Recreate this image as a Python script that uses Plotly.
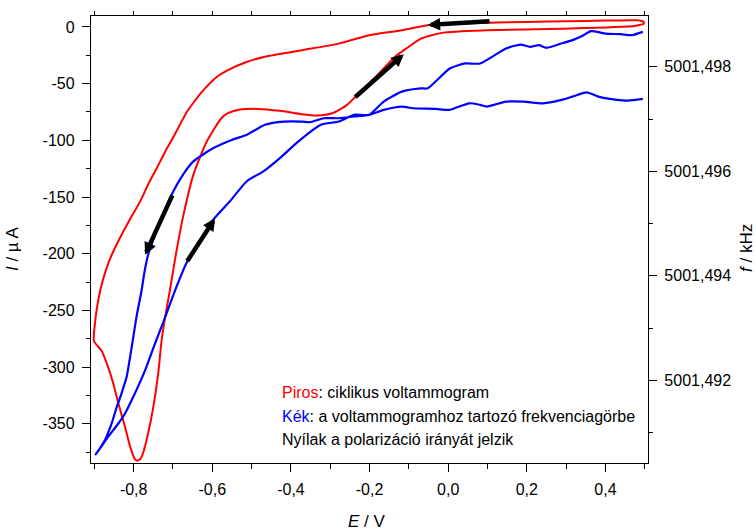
import plotly.graph_objects as go

# Cyclic voltammogram (red): potential E / V and current I / µA, one full cycle
cv_E = [0.497, 0.48, 0.40, 0.30, 0.20, 0.10, 0.00, -0.052, -0.118, -0.201, -0.278, -0.372,
        -0.466, -0.511, -0.560, -0.588, -0.626, -0.645, -0.664, -0.699, -0.720, -0.741,
        -0.763, -0.783, -0.809, -0.834, -0.857, -0.872, -0.884, -0.893, -0.898, -0.901,
        -0.882, -0.865, -0.852, -0.839, -0.822, -0.809, -0.798, -0.792, -0.783, -0.776,
        -0.763, -0.750, -0.7375, -0.729, -0.720, -0.708, -0.694, -0.673, -0.648, -0.614,
        -0.577, -0.560, -0.532, -0.483, -0.428, -0.372, -0.334, -0.295, -0.257, -0.240,
        -0.184, -0.135, -0.107, -0.069, -0.013, 0.098, 0.286, 0.474, 0.497, 0.497]
cv_I = [4.5, 5.9, 5.6, 5.0, 4.4, 3.8, 2.8, 1.5, -2.9, -7.3, -14.7, -20.5,
        -26.3, -30.7, -38.0, -43.9, -57.1, -65.5, -74.6, -97.0, -110.0, -124.4,
        -138.7, -153.6, -169.4, -185.5, -202.0, -216.0, -231.0, -247.0, -260.0, -277.0,
        -285.4, -300.0, -314.3, -331.9, -352.7, -370.2, -380.6, -382.4, -381.0, -375.8,
        -358.2, -335.1, -305.5, -276.6, -256.1, -232.7, -203.4, -165.3, -130.2, -101.0,
        -80.5, -76.1, -73.1, -72.3, -74.0, -77.0, -78.1, -76.1, -68.7, -63.0,
        -43.9, -26.3, -19.1, -10.3, -5.0, -2.9, -1.5, 0.9, 2.9, 4.5]

# Quartz crystal frequency (blue) recorded during the same cycle: E / V and f / kHz
fq_E = [0.495, 0.457, 0.429, 0.382, 0.352, 0.316, 0.288, 0.241, 0.192, 0.147, 0.098,
        0.081, 0.053, 0.004, -0.032, -0.090, -0.118, -0.164, -0.201, -0.240, -0.278,
        -0.316, -0.352, -0.372, -0.418, -0.466, -0.512, -0.549, -0.597, -0.648, -0.674,
        -0.699, -0.725, -0.745, -0.762, -0.772, -0.780, -0.793, -0.805, -0.818, -0.831,
        -0.843, -0.856, -0.873, -0.887, -0.898,
        -0.885, -0.865, -0.839, -0.822, -0.797, -0.771, -0.746, -0.720, -0.695, -0.665,
        -0.631, -0.597, -0.555, -0.512, -0.470, -0.428, -0.381, -0.324, -0.278, -0.240,
        -0.201, -0.164, -0.118, -0.070, -0.052, 0.004, 0.043, 0.081, 0.147, 0.184, 0.208,
        0.231, 0.250, 0.288, 0.316, 0.344, 0.363, 0.401, 0.438, 0.467, 0.495]
fq_f = [5001.497385, 5001.497352, 5001.497366, 5001.497429, 5001.497510, 5001.497429,
        5001.497366, 5001.497301, 5001.497333, 5001.497333, 5001.497238, 5001.497271,
        5001.497301, 5001.497175, 5001.497194, 5001.497206, 5001.497238, 5001.497175,
        5001.497080, 5001.497048, 5001.497015, 5001.497015, 5001.496939, 5001.496952,
        5001.496952, 5001.496890, 5001.496699, 5001.496604, 5001.496444, 5001.496190,
        5001.495943, 5001.495619, 5001.495181, 5001.494800, 5001.494438, 5001.494095,
        5001.493714, 5001.493206, 5001.492634, 5001.492063, 5001.491747, 5001.491491,
        5001.491175, 5001.490857, 5001.490686, 5001.490571,
        5001.490705, 5001.490920, 5001.491175, 5001.491366, 5001.491747, 5001.492190,
        5001.492699, 5001.493206, 5001.493714, 5001.494253, 5001.494667, 5001.495080,
        5001.495429, 5001.495810, 5001.496000, 5001.496253, 5001.496571, 5001.496890,
        5001.496952, 5001.497080, 5001.497080, 5001.497333, 5001.497524, 5001.497587,
        5001.497587, 5001.497968, 5001.498063, 5001.498063, 5001.498349, 5001.498425,
        5001.498381, 5001.498413, 5001.498362, 5001.498444, 5001.498509, 5001.498604,
        5001.498680, 5001.498634, 5001.498623, 5001.498604, 5001.498667]

# Axis ticks and labels (decimal comma)
e_ticks = [-0.8, -0.6, -0.4, -0.2, 0.0, 0.2, 0.4]
e_labels = ["-0,8", "-0,6", "-0,4", "-0,2", "0,0", "0,2", "0,4"]
e_minor = [-0.9, -0.7, -0.5, -0.3, -0.1, 0.1, 0.3, 0.5]
i_ticks = [0, -50, -100, -150, -200, -250, -300, -350]
i_labels = ["0", "-50", "-100", "-150", "-200", "-250", "-300", "-350"]
i_minor = [-25, -75, -125, -175, -225, -275, -325, -375]
f_ticks = [5001.492, 5001.494, 5001.496, 5001.498]
f_labels = ["5001,492", "5001,494", "5001,496", "5001,498"]
f_minor = [5001.491, 5001.493, 5001.495, 5001.497]

# Sweep-direction arrows: (tail E, tail I, head E, head I)
arrows = [
    (0.109, 5.0, -0.052, 1.8),
    (-0.240, -63.0, -0.113, -24.0),
    (-0.700, -147.2, -0.771, -201.0),
    (-0.666, -207.8, -0.593, -168.8),
]

FONT = "Liberation Sans, Arial, sans-serif"
BLACK = "#000000"
RED = "#FF0000"
BLUE = "#0000FF"

fig = go.Figure()
fig.add_trace(go.Scatter(x=cv_E, y=cv_I, mode="lines",
                         line=dict(color=RED, width=2, shape="spline", smoothing=0.6),
                         xaxis="x", yaxis="y", showlegend=False, hoverinfo="skip"))
fig.add_trace(go.Scatter(x=fq_E, y=fq_f, mode="lines",
                         line=dict(color=BLUE, width=2.2, shape="spline", smoothing=0.6),
                         xaxis="x", yaxis="y2", showlegend=False, hoverinfo="skip"))
# helper trace so the top frame axis is drawn
fig.add_trace(go.Scatter(x=[None], y=[None], xaxis="x2", yaxis="y", showlegend=False,
                         hoverinfo="skip"))

x_range = [-0.9085, 0.5082]
axis_common = dict(showgrid=False, zeroline=False, showline=True, linecolor=BLACK,
                   linewidth=1.3, ticks="outside", tickcolor=BLACK, tickwidth=1.3,
                   tickfont=dict(family=FONT, size=16, color=BLACK))

fig.update_layout(
    width=756, height=530,
    margin=dict(l=91, r=108, t=14, b=67),
    paper_bgcolor="white", plot_bgcolor="white",
    font=dict(family=FONT, size=16, color=BLACK),
    xaxis=dict(range=x_range, tickmode="array", tickvals=e_ticks, ticktext=e_labels,
               ticklen=8, ticklabelstandoff=4,
               minor=dict(tickmode="array", tickvals=e_minor, ticklen=5, ticks="outside",
                          tickcolor=BLACK, tickwidth=1.3),
               anchor="y", **axis_common),
    xaxis2=dict(range=x_range, overlaying="x", side="top", anchor="y", dtick=0.1,
                tick0=-0.9, ticklen=4, showticklabels=False, **axis_common),
    yaxis=dict(range=[-384.6, 9.66], tickmode="array", tickvals=i_ticks, ticktext=i_labels,
               ticklen=8, ticklabelstandoff=4,
               minor=dict(tickmode="array", tickvals=i_minor, ticklen=4, ticks="outside",
                          tickcolor=BLACK, tickwidth=1.3),
               anchor="x", **axis_common),
    yaxis2=dict(range=[5001.490419, 5001.498971], overlaying="y", side="right", anchor="x",
                tickmode="array", tickvals=f_ticks, ticktext=f_labels, ticklen=8,
                ticklabelstandoff=4,
                minor=dict(tickmode="array", tickvals=f_minor, ticklen=4, ticks="outside",
                           tickcolor=BLACK, tickwidth=1.3),
                **axis_common),
)

for tE, tI, hE, hI in arrows:
    fig.add_annotation(x=hE, y=hI, ax=tE, ay=tI, xref="x", yref="y", axref="x", ayref="y",
                       text="", showarrow=True, arrowhead=2, arrowsize=0.55,
                       arrowwidth=4.5, arrowcolor=BLACK, standoff=0, startstandoff=0)

# Axis titles
fig.add_annotation(text="<i>E</i> / V", xref="paper", yref="paper", x=0.4964, y=-0.1314,
                   xanchor="center", yanchor="middle", showarrow=False,
                   font=dict(family=FONT, size=17, color=BLACK))
fig.add_annotation(text="<i>I</i> / µ A", xref="paper", yref="paper", x=-0.141, y=0.4797,
                   xanchor="center", yanchor="middle", showarrow=False, textangle=-90,
                   font=dict(family=FONT, size=17, color=BLACK))
fig.add_annotation(text="<i>f</i> / kHz", xref="paper", yref="paper", x=1.1777, y=0.481,
                   xanchor="center", yanchor="middle", showarrow=False, textangle=-90,
                   font=dict(family=FONT, size=17, color=BLACK))

# Explanatory notes inside the plot
notes = [
    (f'<span style="color:{RED}">Piros</span>: ciklikus voltammogram', 0.1581),
    (f'<span style="color:{BLUE}">Kék</span>: a voltammogramhoz tartozó frekvenciagörbe', 0.1047),
    ("Nyílak a polarizáció irányát jelzik", 0.0535),
]
for txt, yy in notes:
    fig.add_annotation(text=txt, xref="paper", yref="paper", x=0.3393, y=yy,
                       xanchor="left", yanchor="middle", showarrow=False,
                       font=dict(family=FONT, size=16, color=BLACK))

fig.write_html("out.html")
